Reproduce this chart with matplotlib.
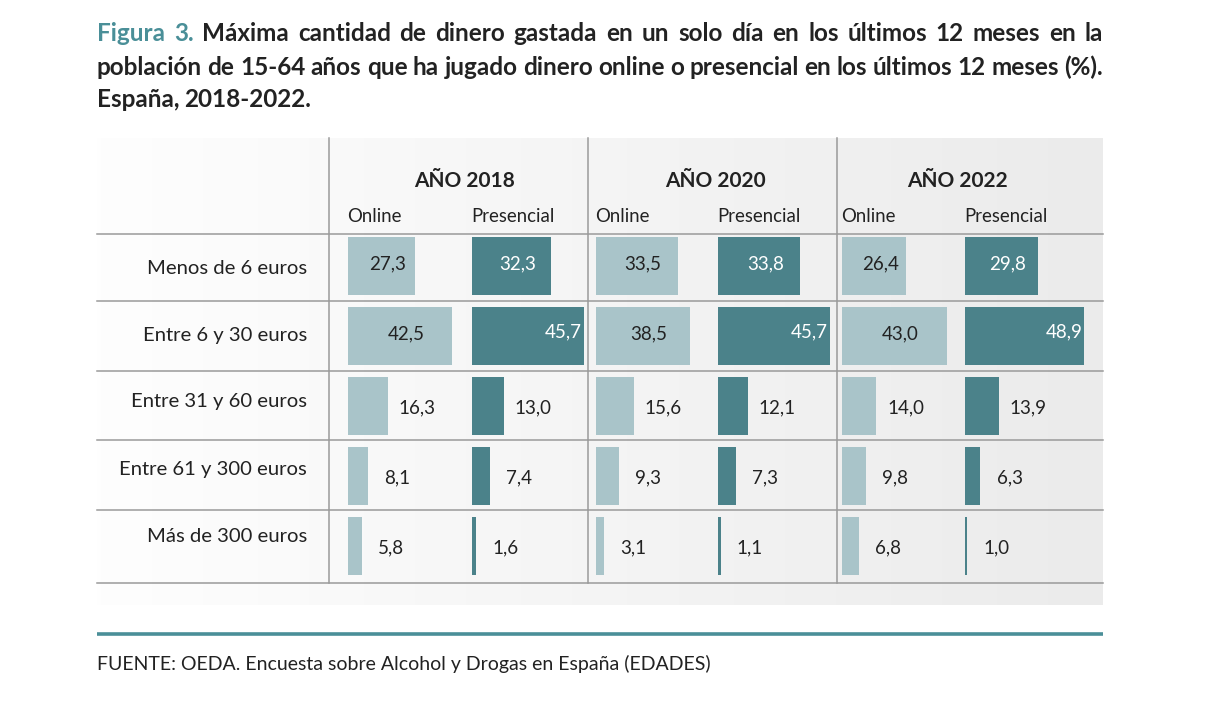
import numpy as np
import matplotlib
matplotlib.use("Agg")
import matplotlib.pyplot as plt
from matplotlib.colors import LinearSegmentedColormap

plt.rcParams['font.family'] = ['Lato', 'DejaVu Sans']

# ---- data ----
categories = ["Menos de 6 euros", "Entre 6 y 30 euros", "Entre 31 y 60 euros",
              "Entre 61 y 300 euros", "Más de 300 euros"]
years = ["AÑO 2018", "AÑO 2020", "AÑO 2022"]
series_names = ["Online", "Presencial"]
online_2018 = [27.3, 42.5, 16.3, 8.1, 5.8]
online_2020 = [33.5, 38.5, 15.6, 9.3, 3.1]
online_2022 = [26.4, 43.0, 14.0, 9.8, 6.8]
presencial_2018 = [32.3, 45.7, 13.0, 7.4, 1.6]
presencial_2020 = [33.8, 45.7, 12.1, 7.3, 1.1]
presencial_2022 = [29.8, 48.9, 13.9, 6.3, 1.0]

title_lines = [
    "Figura 3. Máxima cantidad de dinero gastada en un solo día en los últimos 12 meses en la",
    "población de 15-64 años que ha jugado dinero online o presencial en los últimos 12 meses (%).",
    "España, 2018-2022.",
]
source = "FUENTE: OEDA. Encuesta sobre Alcohol y Drogas en España (EDADES)"

# ---- style ----
C_ONLINE = "#a9c4c9"
C_PRES = "#4b828a"
C_TEAL = "#4a8f98"
C_TEXT = "#222222"
C_GRID = "#9a9a9a"

W, H = 1220, 702
fig = plt.figure(figsize=(W / 100, H / 100), dpi=100)
fig.patch.set_facecolor("white")

bg = fig.add_axes([0, 0, 1, 1])
bg.set_xlim(0, W)
bg.set_ylim(H, 0)
bg.axis("off")

# table background gradient
L, R, T, B = 97, 1103, 138, 605
cmap = LinearSegmentedColormap.from_list("g", ["#fefefe", "#ebebeb"])
grad = np.linspace(0, 1, 256).reshape(1, -1)
bg.imshow(grad, extent=[L, R, B, T], cmap=cmap, aspect="auto", zorder=0)

# grid lines
for y in [234, 301, 371, 440, 510, 583]:
    bg.plot([L, R], [y, y], color=C_GRID, lw=1.1, zorder=1)
col_div = [329, 588, 837]
for x in col_div:
    bg.plot([x, x], [T, 583], color=C_GRID, lw=1.1, zorder=1)

# bottom teal rule and source
bg.plot([L, R], [634, 634], color=C_TEAL, lw=2.6, solid_capstyle="butt")
bg.text(L, 664, source, fontsize=14, color=C_TEXT, va="center", ha="left")

# title, justified
fig.canvas.draw()
rend = fig.canvas.get_renderer()


def word_width(w, size):
    t = bg.text(0, 0, w, fontsize=size, fontweight="bold")
    bb = t.get_window_extent(renderer=rend)
    t.remove()
    return bb.width


tsize = 16
nat = [sum(word_width(w, tsize) for w in ln.split()) + 4.5 * (len(ln.split()) - 1)
       for ln in title_lines[:2]]
tsize = tsize * 1000 / max(nat)

baselines = [41, 75, 107]
for k, ln in enumerate(title_lines):
    words = ln.split()
    widths = [word_width(w, tsize) for w in words]
    if k < 2:
        gap = (R - L - sum(widths)) / (len(words) - 1)
    else:
        gap = tsize * 0.28
    x = L
    for i, (w, wd) in enumerate(zip(words, widths)):
        col = C_TEAL if (k == 0 and i < 2) else C_TEXT
        bg.text(x, baselines[k], w, fontsize=tsize, fontweight="bold",
                color=col, ha="left", va="baseline")
        x += wd + gap

# headers
year_centers = [465, 715, 957]
for yc, lab in zip(year_centers, years):
    bg.text(yc, 181, lab, fontsize=15, fontweight="bold", color=C_TEXT,
            ha="center", va="center")

# category labels
for i, c in enumerate(categories):
    bg.text(307, 268 + 67 * i, c, fontsize=14.6, color=C_TEXT, ha="right", va="center")

# bar cells
PX_PER_UNIT = 2.44
starts = [[348, 472], [596, 718], [842, 965]]
data = [[online_2018, presencial_2018],
        [online_2020, presencial_2020],
        [online_2022, presencial_2022]]
colors = [C_ONLINE, C_PRES]
row_top, row_bot = 231, 581
cell_w = 125
VS = 13.5

for j in range(3):
    for s in range(2):
        x0 = starts[j][s]
        bg.text(x0 - 1, 216, series_names[s], fontsize=13.4, color=C_TEXT,
                ha="left", va="center")
        ax = fig.add_axes([x0 / W, (H - row_bot) / H, cell_w / W, (row_bot - row_top) / H])
        ax.set_xlim(0, cell_w / PX_PER_UNIT)
        ax.set_ylim(len(categories) - 0.5, -0.5)
        ax.axis("off")
        ax.patch.set_alpha(0)
        vals = data[j][s]
        ax.barh(range(len(vals)), vals, height=0.83, color=colors[s])
        for i, v in enumerate(vals):
            txt = f"{v:.1f}".replace(".", ",")
            if v > 20:
                tc = "white" if s == 1 else C_TEXT
                if s == 1 and v > 40:
                    ax.text(v - 0.8, i - 0.06, txt, ha="right", va="center",
                            fontsize=VS, color=tc, clip_on=False)
                else:
                    ax.text(v / 2 + 2.5, i - 0.03, txt, ha="center", va="center",
                            fontsize=VS, color=tc, clip_on=False)
            else:
                ax.text(v + 12, i + 0.02, txt, ha="center", va="center",
                        fontsize=VS, color=C_TEXT, clip_on=False)

fig.savefig("out.png", dpi=100, facecolor="white")
